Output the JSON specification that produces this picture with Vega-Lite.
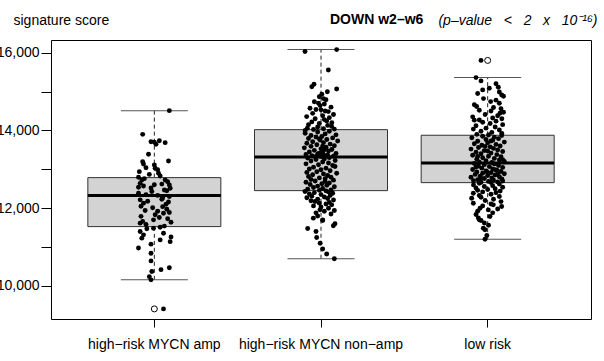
{
  "$schema": "https://vega.github.io/schema/vega-lite/v6.json",
  "width": 540,
  "height": 279,
  "autosize": {"type": "none"},
  "padding": {"left": 51, "top": 40, "right": 13, "bottom": 42},
  "config": {
    "font": "Liberation Sans",
    "view": {"stroke": "#000000", "strokeWidth": 1},
    "axis": {"labelFontSize": 14, "labelColor": "#000000", "tickColor": "#000000", "domain": false, "grid": false, "labelFont": "Liberation Sans", "titleFont": "Liberation Sans"}
  },
  "title": {
    "text": "DOWN w2–w6",
    "anchor": "start",
    "frame": "group",
    "offset": -14,
    "dx": 279,
    "fontSize": 14,
    "fontWeight": "bold",
    "font": "Liberation Sans",
    "color": "#000000"
  },
  "datasets": {
    "stats": [
      {"g": "A", "lo": 10157, "q1": 11527, "med": 12324, "q3": 12787, "hi": 14509},
      {"g": "B", "lo": 10700, "q1": 12452, "med": 13319, "q3": 14021, "hi": 16080},
      {"g": "C", "lo": 11203, "q1": 12658, "med": 13165, "q3": 13877, "hi": 15360}
    ],
    "out": [
      {"g": "A", "v": 9410},
      {"g": "C", "v": 15802}
    ],
    "pts": [
      {"g":"A","v":14509,"j":0.09},{"g":"A","v":13900,"j":-0.07},{"g":"A","v":13710,"j":-0.02},{"g":"A","v":13700,"j":0.0},
      {"g":"A","v":13737,"j":0.03},{"g":"A","v":13686,"j":0.065},{"g":"A","v":13645,"j":0.01},{"g":"A","v":13388,"j":-0.035},
      {"g":"A","v":13216,"j":0.085},{"g":"A","v":13198,"j":-0.07},{"g":"A","v":13139,"j":-0.065},{"g":"A","v":13113,"j":0.0},
      {"g":"A","v":13028,"j":0.005},{"g":"A","v":12990,"j":0.02},{"g":"A","v":12941,"j":-0.09},{"g":"A","v":12900,"j":0.025},
      {"g":"A","v":12830,"j":0.035},{"g":"A","v":12797,"j":-0.095},{"g":"A","v":12760,"j":-0.06},{"g":"A","v":12725,"j":-0.075},
      {"g":"A","v":12725,"j":0.065},{"g":"A","v":12680,"j":0.08},{"g":"A","v":12640,"j":-0.085},{"g":"A","v":12620,"j":0.045},
      {"g":"A","v":12600,"j":0.09},{"g":"A","v":12573,"j":-0.065},{"g":"A","v":12540,"j":-0.095},{"g":"A","v":12520,"j":-0.02},
      {"g":"A","v":12514,"j":0.095},{"g":"A","v":12470,"j":0.06},{"g":"A","v":12428,"j":-0.015},{"g":"A","v":12385,"j":-0.095},
      {"g":"A","v":12350,"j":-0.05},{"g":"A","v":12330,"j":0.02},{"g":"A","v":12300,"j":0.09},{"g":"A","v":12270,"j":0.05},
      {"g":"A","v":12232,"j":0.045},{"g":"A","v":12215,"j":-0.085},{"g":"A","v":12180,"j":-0.04},{"g":"A","v":12130,"j":-0.065},
      {"g":"A","v":12100,"j":0.07},{"g":"A","v":12040,"j":0.05},{"g":"A","v":12010,"j":-0.01},{"g":"A","v":11975,"j":0.075},
      {"g":"A","v":11940,"j":-0.055},{"g":"A","v":11890,"j":0.09},{"g":"A","v":11870,"j":0.055},{"g":"A","v":11830,"j":0.005},
      {"g":"A","v":11790,"j":-0.08},{"g":"A","v":11760,"j":0.03},{"g":"A","v":11700,"j":-0.005},{"g":"A","v":11660,"j":-0.07},
      {"g":"A","v":11640,"j":0.1},{"g":"A","v":11615,"j":-0.085},{"g":"A","v":11580,"j":-0.05},{"g":"A","v":11540,"j":0.06},
      {"g":"A","v":11510,"j":0.035},{"g":"A","v":11485,"j":-0.005},{"g":"A","v":11470,"j":-0.045},{"g":"A","v":11400,"j":-0.085},
      {"g":"A","v":11355,"j":0.055},{"g":"A","v":11315,"j":-0.065},{"g":"A","v":11260,"j":0.1},{"g":"A","v":11230,"j":-0.075},
      {"g":"A","v":11185,"j":0.035},{"g":"A","v":11140,"j":0.095},{"g":"A","v":11075,"j":-0.02},{"g":"A","v":10975,"j":-0.095},
      {"g":"A","v":10840,"j":-0.02},{"g":"A","v":10645,"j":-0.02},{"g":"A","v":10470,"j":0.09},{"g":"A","v":10420,"j":0.04},
      {"g":"A","v":10370,"j":-0.015},{"g":"A","v":10240,"j":-0.03},{"g":"A","v":10157,"j":-0.02},{"g":"A","v":9410,"j":0.055},
      {"g":"A","v":12870,"j":-0.03},{"g":"A","v":12450,"j":0.075},{"g":"A","v":12050,"j":-0.08},{"g":"A","v":11920,"j":0.02},
      {"g":"A","v":12605,"j":0.0},{"g":"A","v":13040,"j":-0.05},{"g":"A","v":12160,"j":0.085},{"g":"A","v":11730,"j":0.08},

      {"g":"B","v":16080,"j":0.094},{"g":"B","v":16030,"j":-0.096},{"g":"B","v":15555,"j":0.044},{"g":"B","v":15187,"j":-0.042},
      {"g":"B","v":15125,"j":-0.055},{"g":"B","v":15065,"j":0.094},{"g":"B","v":14997,"j":0.038},{"g":"B","v":14930,"j":0.005},
      {"g":"B","v":14868,"j":-0.01},{"g":"B","v":14820,"j":0.015},{"g":"B","v":14790,"j":0.03},{"g":"B","v":14740,"j":-0.04},
      {"g":"B","v":14700,"j":-0.015},{"g":"B","v":14680,"j":0.02},{"g":"B","v":14640,"j":-0.005},{"g":"B","v":14600,"j":0.06},
      {"g":"B","v":14572,"j":-0.066},{"g":"B","v":14540,"j":-0.03},{"g":"B","v":14530,"j":0.0},{"g":"B","v":14500,"j":0.025},
      {"g":"B","v":14485,"j":0.044},{"g":"B","v":14440,"j":-0.05},{"g":"B","v":14410,"j":0.075},{"g":"B","v":14380,"j":0.01},
      {"g":"B","v":14357,"j":-0.086},{"g":"B","v":14330,"j":0.05},{"g":"B","v":14300,"j":-0.035},{"g":"B","v":14280,"j":0.02},
      {"g":"B","v":14246,"j":0.034},{"g":"B","v":14220,"j":-0.055},{"g":"B","v":14200,"j":0.065},{"g":"B","v":14180,"j":-0.01},
      {"g":"B","v":14150,"j":-0.075},{"g":"B","v":14130,"j":0.04},{"g":"B","v":14105,"j":0.064},{"g":"B","v":14090,"j":-0.02},
      {"g":"B","v":14060,"j":-0.082},{"g":"B","v":14045,"j":0.015},{"g":"B","v":14035,"j":0.08},{"g":"B","v":14025,"j":-0.045},
      {"g":"B","v":14000,"j":-0.095},{"g":"B","v":13980,"j":0.05},{"g":"B","v":13962,"j":-0.02},{"g":"B","v":13930,"j":-0.095},
      {"g":"B","v":13912,"j":0.025},{"g":"B","v":13887,"j":0.09},{"g":"B","v":13871,"j":-0.06},{"g":"B","v":13846,"j":0.005},
      {"g":"B","v":13833,"j":-0.03},{"g":"B","v":13808,"j":0.07},{"g":"B","v":13794,"j":-0.075},{"g":"B","v":13768,"j":0.035},
      {"g":"B","v":13752,"j":-0.005},{"g":"B","v":13727,"j":0.1},{"g":"B","v":13711,"j":-0.05},{"g":"B","v":13688,"j":0.015},
      {"g":"B","v":13672,"j":-0.085},{"g":"B","v":13649,"j":0.055},{"g":"B","v":13633,"j":-0.025},{"g":"B","v":13606,"j":0.08},
      {"g":"B","v":13591,"j":-0.06},{"g":"B","v":13568,"j":0.03},{"g":"B","v":13553,"j":-0.1},{"g":"B","v":13527,"j":0.0},
      {"g":"B","v":13512,"j":0.065},{"g":"B","v":13489,"j":-0.04},{"g":"B","v":13473,"j":0.045},{"g":"B","v":13448,"j":-0.07},
      {"g":"B","v":13433,"j":0.01},{"g":"B","v":13409,"j":0.09},{"g":"B","v":13396,"j":-0.02},{"g":"B","v":13381,"j":-0.09},
      {"g":"B","v":13366,"j":0.04},{"g":"B","v":13352,"j":-0.055},{"g":"B","v":13341,"j":0.075},{"g":"B","v":13330,"j":0.0},
      {"g":"B","v":13325,"j":-0.035},{"g":"B","v":13358,"j":0.02},{"g":"B","v":13418,"j":-0.01},{"g":"B","v":13598,"j":0.01},
      {"g":"B","v":13779,"j":-0.01},{"g":"B","v":13502,"j":0.02},
      {"g":"B","v":13300,"j":0.05},{"g":"B","v":13290,"j":-0.08},{"g":"B","v":13268,"j":0.02},{"g":"B","v":13251,"j":-0.03},
      {"g":"B","v":13229,"j":0.085},{"g":"B","v":13212,"j":-0.06},{"g":"B","v":13188,"j":0.01},{"g":"B","v":13163,"j":0.045},
      {"g":"B","v":13141,"j":-0.09},{"g":"B","v":13119,"j":-0.015},{"g":"B","v":13098,"j":0.07},{"g":"B","v":13072,"j":0.084},
      {"g":"B","v":13052,"j":-0.045},{"g":"B","v":13031,"j":0.03},{"g":"B","v":13008,"j":-0.07},{"g":"B","v":12991,"j":0.0},
      {"g":"B","v":12962,"j":0.055},{"g":"B","v":12938,"j":-0.025},{"g":"B","v":12921,"j":-0.085},{"g":"B","v":12900,"j":0.094},
      {"g":"B","v":12883,"j":0.015},{"g":"B","v":12861,"j":-0.05},{"g":"B","v":12842,"j":0.04},{"g":"B","v":12814,"j":-0.075},
      {"g":"B","v":12798,"j":0.06},{"g":"B","v":12779,"j":-0.01},{"g":"B","v":12761,"j":0.025},{"g":"B","v":12738,"j":-0.06},
      {"g":"B","v":12722,"j":0.075},{"g":"B","v":12699,"j":-0.035},{"g":"B","v":12686,"j":0.024},{"g":"B","v":12668,"j":-0.09},
      {"g":"B","v":12651,"j":0.05},{"g":"B","v":12629,"j":0.005},{"g":"B","v":12611,"j":-0.065},{"g":"B","v":12588,"j":0.035},
      {"g":"B","v":12569,"j":-0.02},{"g":"B","v":12552,"j":0.08},{"g":"B","v":12531,"j":-0.045},{"g":"B","v":12508,"j":0.01},
      {"g":"B","v":12489,"j":-0.08},{"g":"B","v":12471,"j":0.06},{"g":"B","v":12460,"j":-0.01},
      {"g":"B","v":12445,"j":0.03},{"g":"B","v":12429,"j":-0.096},{"g":"B","v":12420,"j":0.045},{"g":"B","v":12400,"j":-0.04},
      {"g":"B","v":12385,"j":0.07},{"g":"B","v":12370,"j":-0.07},{"g":"B","v":12350,"j":0.0},{"g":"B","v":12330,"j":0.055},
      {"g":"B","v":12310,"j":-0.055},{"g":"B","v":12290,"j":0.02},{"g":"B","v":12270,"j":-0.085},{"g":"B","v":12250,"j":0.04},
      {"g":"B","v":12230,"j":-0.02},{"g":"B","v":12210,"j":0.075},{"g":"B","v":12190,"j":-0.06},{"g":"B","v":12172,"j":-0.036},
      {"g":"B","v":12150,"j":0.05},{"g":"B","v":12130,"j":-0.01},{"g":"B","v":12110,"j":0.03},{"g":"B","v":12086,"j":0.064},
      {"g":"B","v":12060,"j":-0.045},{"g":"B","v":12030,"j":0.0},{"g":"B","v":12000,"j":0.045},{"g":"B","v":11958,"j":-0.006},
      {"g":"B","v":11940,"j":0.08},{"g":"B","v":11920,"j":0.02},{"g":"B","v":11880,"j":-0.03},{"g":"B","v":11850,"j":0.06},
      {"g":"B","v":11800,"j":-0.02},{"g":"B","v":11744,"j":-0.046},{"g":"B","v":11700,"j":0.01},{"g":"B","v":11684,"j":0.01},
      {"g":"B","v":11600,"j":0.084},{"g":"B","v":11547,"j":0.074},{"g":"B","v":11478,"j":-0.08},{"g":"B","v":11400,"j":-0.03},
      {"g":"B","v":11247,"j":-0.026},{"g":"B","v":11100,"j":-0.005},{"g":"B","v":10950,"j":0.01},{"g":"B","v":10823,"j":0.034},
      {"g":"B","v":10700,"j":0.08},

      {"g":"C","v":15802,"j":-0.04},{"g":"C","v":15360,"j":-0.07},{"g":"C","v":15275,"j":-0.04},{"g":"C","v":15200,"j":0.05},
      {"g":"C","v":15113,"j":0.064},{"g":"C","v":15087,"j":0.01},{"g":"C","v":15044,"j":-0.03},{"g":"C","v":14990,"j":0.07},
      {"g":"C","v":14950,"j":-0.06},{"g":"C","v":14915,"j":0.084},{"g":"C","v":14880,"j":0.095},{"g":"C","v":14820,"j":-0.025},
      {"g":"C","v":14780,"j":0.05},{"g":"C","v":14743,"j":0.018},{"g":"C","v":14700,"j":0.07},{"g":"C","v":14660,"j":-0.08},
      {"g":"C","v":14615,"j":-0.066},{"g":"C","v":14590,"j":0.035},{"g":"C","v":14560,"j":0.08},{"g":"C","v":14520,"j":-0.05},
      {"g":"C","v":14500,"j":0.02},{"g":"C","v":14470,"j":0.095},{"g":"C","v":14443,"j":0.074},{"g":"C","v":14410,"j":-0.015},
      {"g":"C","v":14380,"j":0.06},{"g":"C","v":14350,"j":-0.09},{"g":"C","v":14320,"j":0.03},{"g":"C","v":14300,"j":0.085},
      {"g":"C","v":14270,"j":-0.05},{"g":"C","v":14265,"j":-0.08},{"g":"C","v":14240,"j":0.05},{"g":"C","v":14210,"j":-0.03},
      {"g":"C","v":14180,"j":0.015},{"g":"C","v":14150,"j":0.09},{"g":"C","v":14120,"j":-0.07},{"g":"C","v":14090,"j":0.045},
      {"g":"C","v":14060,"j":-0.01},{"g":"C","v":14035,"j":-0.086},{"g":"C","v":14010,"j":0.07},{"g":"C","v":13980,"j":-0.04},
      {"g":"C","v":13950,"j":0.025},{"g":"C","v":13920,"j":0.085},{"g":"C","v":13900,"j":-0.065},{"g":"C","v":13885,"j":0.005},
      {"g":"C","v":13870,"j":0.084},{"g":"C","v":13852,"j":-0.03},{"g":"C","v":13828,"j":0.04},{"g":"C","v":13811,"j":-0.095},
      {"g":"C","v":13789,"j":0.065},{"g":"C","v":13768,"j":-0.01},{"g":"C","v":13745,"j":0.03},{"g":"C","v":13722,"j":-0.06},
      {"g":"C","v":13701,"j":0.1},{"g":"C","v":13683,"j":0.0},{"g":"C","v":13659,"j":-0.08},{"g":"C","v":13641,"j":0.05},
      {"g":"C","v":13618,"j":-0.035},{"g":"C","v":13602,"j":0.075},{"g":"C","v":13579,"j":0.015},{"g":"C","v":13561,"j":-0.055},
      {"g":"C","v":13538,"j":0.035},{"g":"C","v":13521,"j":-0.1},{"g":"C","v":13498,"j":0.06},{"g":"C","v":13482,"j":-0.02},
      {"g":"C","v":13459,"j":0.09},{"g":"C","v":13441,"j":-0.07},{"g":"C","v":13418,"j":0.02},{"g":"C","v":13402,"j":-0.04},
      {"g":"C","v":13379,"j":0.055},{"g":"C","v":13361,"j":-0.09},{"g":"C","v":13338,"j":0.005},{"g":"C","v":13322,"j":0.08},
      {"g":"C","v":13299,"j":-0.03},{"g":"C","v":13281,"j":0.04},{"g":"C","v":13258,"j":-0.065},{"g":"C","v":13241,"j":0.07},
      {"g":"C","v":13219,"j":-0.01},{"g":"C","v":13202,"j":0.1},{"g":"C","v":13185,"j":-0.05},{"g":"C","v":13175,"j":0.025},
      {"g":"C","v":13470,"j":0.0},{"g":"C","v":13590,"j":-0.015},{"g":"C","v":13730,"j":0.02},{"g":"C","v":13330,"j":-0.06},
      {"g":"C","v":13250,"j":0.09},
      {"g":"C","v":13150,"j":-0.08},{"g":"C","v":13140,"j":0.04},{"g":"C","v":13120,"j":-0.02},{"g":"C","v":13100,"j":0.065},
      {"g":"C","v":13085,"j":-0.055},{"g":"C","v":13070,"j":0.01},{"g":"C","v":13050,"j":0.09},{"g":"C","v":13030,"j":-0.035},
      {"g":"C","v":13010,"j":0.03},{"g":"C","v":12995,"j":-0.09},{"g":"C","v":12980,"j":0.055},{"g":"C","v":12960,"j":-0.01},
      {"g":"C","v":12945,"j":0.08},{"g":"C","v":12930,"j":-0.065},{"g":"C","v":12915,"j":0.02},{"g":"C","v":12900,"j":-0.03},
      {"g":"C","v":12885,"j":0.1},{"g":"C","v":12870,"j":-0.075},{"g":"C","v":12855,"j":0.045},{"g":"C","v":12840,"j":0.0},
      {"g":"C","v":12825,"j":-0.045},{"g":"C","v":12810,"j":0.07},{"g":"C","v":12795,"j":-0.1},{"g":"C","v":12780,"j":0.025},
      {"g":"C","v":12765,"j":-0.02},{"g":"C","v":12750,"j":0.085},{"g":"C","v":12735,"j":-0.06},{"g":"C","v":12720,"j":0.035},
      {"g":"C","v":12705,"j":-0.085},{"g":"C","v":12690,"j":0.005},{"g":"C","v":12675,"j":0.06},{"g":"C","v":12665,"j":-0.04},
      {"g":"C","v":12660,"j":0.02},{"g":"C","v":13060,"j":-0.07},{"g":"C","v":12990,"j":0.045},{"g":"C","v":12890,"j":0.06},
      {"g":"C","v":12760,"j":-0.04},{"g":"C","v":12700,"j":0.09},{"g":"C","v":12940,"j":-0.005},
      {"g":"C","v":12640,"j":-0.05},{"g":"C","v":12620,"j":0.07},{"g":"C","v":12600,"j":-0.085},{"g":"C","v":12580,"j":0.03},
      {"g":"C","v":12560,"j":-0.02},{"g":"C","v":12540,"j":0.09},{"g":"C","v":12520,"j":-0.07},{"g":"C","v":12500,"j":0.045},
      {"g":"C","v":12480,"j":0.0},{"g":"C","v":12460,"j":-0.06},{"g":"C","v":12440,"j":0.075},{"g":"C","v":12420,"j":-0.03},
      {"g":"C","v":12400,"j":0.05},{"g":"C","v":12385,"j":-0.086},{"g":"C","v":12360,"j":0.02},{"g":"C","v":12330,"j":-0.05},
      {"g":"C","v":12300,"j":0.07},{"g":"C","v":12280,"j":-0.04},{"g":"C","v":12257,"j":-0.096},{"g":"C","v":12230,"j":0.035},
      {"g":"C","v":12200,"j":-0.015},{"g":"C","v":12170,"j":0.08},{"g":"C","v":12129,"j":-0.086},{"g":"C","v":12110,"j":0.02},
      {"g":"C","v":12086,"j":0.034},{"g":"C","v":12060,"j":-0.03},{"g":"C","v":12043,"j":0.084},{"g":"C","v":12000,"j":-0.046},
      {"g":"C","v":11980,"j":0.06},{"g":"C","v":11956,"j":0.004},{"g":"C","v":11920,"j":-0.06},{"g":"C","v":11880,"j":0.03},
      {"g":"C","v":11840,"j":-0.07},{"g":"C","v":11786,"j":0.014},{"g":"C","v":11750,"j":-0.056},{"g":"C","v":11700,"j":-0.05},
      {"g":"C","v":11684,"j":-0.04},{"g":"C","v":11620,"j":-0.02},{"g":"C","v":11560,"j":0.005},{"g":"C","v":11486,"j":-0.026},
      {"g":"C","v":11444,"j":-0.016},{"g":"C","v":11300,"j":-0.005},{"g":"C","v":11203,"j":-0.016}
    ]
  },
  "layer": [
    {
      "data": {"name": "stats"},
      "mark": {"type": "rule", "strokeDash": [4, 3], "color": "#222222", "strokeWidth": 1},
      "encoding": {
        "x": {
          "field": "g", "type": "nominal",
          "scale": {"type": "band", "paddingInner": 0, "paddingOuter": 0.12},
          "axis": {
            "title": "(p–value\u00a0\u00a0\u00a0<\u00a0\u00a0\u00a02\u00a0\u00a0\u00a0x\u00a0\u00a0\u00a010⁻¹⁶)",
            "titleFontStyle": "italic", "titleFontWeight": "normal", "titleFontSize": 14, "titleColor": "#000000",
            "titleAlign": "right", "titleAnchor": null, "titleBaseline": "alphabetic",
            "titleX": 546, "titleY": -295, "titleAngle": 0,
            "labelAngle": 0, "tickSize": 8, "labelPadding": 10, "bandPosition": 0.5,
            "labelExpr": "datum.value == 'A' ? 'high−risk MYCN amp' : datum.value == 'B' ? 'high−risk MYCN non−amp' : 'low risk'"
          }
        },
        "y": {
          "field": "lo", "type": "quantitative",
          "scale": {"domain": [9150, 16327], "nice": false, "zero": false},
          "axis": {
            "title": "signature score", "titleAngle": 0, "titleAlign": "left", "titleBaseline": "alphabetic",
            "titleX": -38, "titleY": -16, "titleFontSize": 14, "titleFontWeight": "normal", "titleColor": "#000000",
            "values": [10000, 11000, 12000, 13000, 14000, 15000, 16000],
            "labelExpr": "datum.value % 2000 == 0 ? format(datum.value, ',') : ''",
            "tickSize": 10, "labelPadding": 2
          }
        },
        "y2": {"field": "q1"}
      }
    },
    {
      "data": {"name": "stats"},
      "mark": {"type": "rule", "strokeDash": [4, 3], "color": "#222222", "strokeWidth": 1},
      "encoding": {
        "x": {"field": "g", "type": "nominal"},
        "y": {"field": "q3", "type": "quantitative"},
        "y2": {"field": "hi"}
      }
    },
    {
      "data": {"name": "stats"},
      "mark": {"type": "bar", "width": 133, "fill": "#d3d3d3", "stroke": "#333333", "strokeWidth": 1},
      "encoding": {
        "x": {"field": "g", "type": "nominal"},
        "y": {"field": "q1", "type": "quantitative"},
        "y2": {"field": "q3"}
      }
    },
    {
      "data": {"name": "stats"},
      "mark": {"type": "tick", "size": 133, "thickness": 3, "color": "#000000", "opacity": 1},
      "encoding": {
        "x": {"field": "g", "type": "nominal"},
        "y": {"field": "med", "type": "quantitative"}
      }
    },
    {
      "data": {"name": "stats"},
      "mark": {"type": "tick", "size": 67, "thickness": 1, "color": "#555555", "opacity": 1},
      "encoding": {
        "x": {"field": "g", "type": "nominal"},
        "y": {"field": "lo", "type": "quantitative"}
      }
    },
    {
      "data": {"name": "stats"},
      "mark": {"type": "tick", "size": 67, "thickness": 1, "color": "#555555", "opacity": 1},
      "encoding": {
        "x": {"field": "g", "type": "nominal"},
        "y": {"field": "hi", "type": "quantitative"}
      }
    },
    {
      "data": {"name": "out"},
      "mark": {"type": "point", "filled": false, "fill": "#ffffff", "stroke": "#000000", "strokeWidth": 1, "size": 36, "opacity": 1},
      "encoding": {
        "x": {"field": "g", "type": "nominal"},
        "y": {"field": "v", "type": "quantitative"}
      }
    },
    {
      "data": {"name": "pts"},
      "mark": {"type": "circle", "color": "#000000", "size": 24, "opacity": 1},
      "encoding": {
        "x": {"field": "g", "type": "nominal"},
        "xOffset": {"field": "j", "type": "quantitative", "scale": {"domain": [-0.5, 0.5]}},
        "y": {"field": "v", "type": "quantitative"}
      }
    }
  ]
}
